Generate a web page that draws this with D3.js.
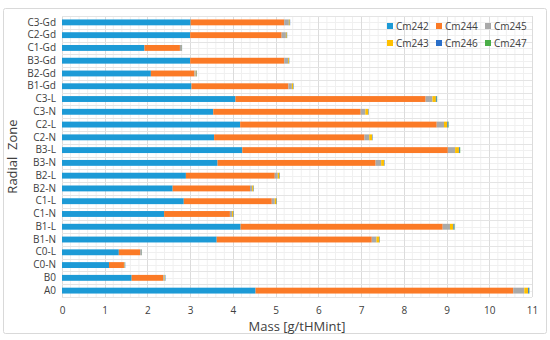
<!DOCTYPE html>
<html>
<head>
<meta charset="utf-8">
<script src="https://cdn.jsdelivr.net/npm/d3@7"></script>
<style>
  body { margin: 0; background: #fff; }
  text { font-family: "Open Sans", "Noto Sans", sans-serif; fill: #404040; }
</style>
</head>
<body>
<div id="chart"></div>
<script>
// radial zones, top to bottom
let zones = ['C3-Gd', 'C2-Gd', 'C1-Gd', 'B3-Gd', 'B2-Gd', 'B1-Gd', 'C3-L', 'C3-N', 'C2-L', 'C2-N', 'B3-L', 'B3-N',
  'B2-L', 'B2-N', 'C1-L', 'C1-N', 'B1-L', 'B1-N', 'C0-L', 'C0-N', 'B0', 'A0'];
// isotopes in stacking order
let isotopes = ['Cm242', 'Cm244', 'Cm245', 'Cm243', 'Cm246', 'Cm247'];
let cm242 = [3.01, 3.00, 1.93, 3.00, 2.08, 3.03, 4.06, 3.54, 4.17, 3.56, 4.22, 3.64, 2.90, 2.59, 2.85, 2.39, 4.18, 3.62, 1.33, 1.10, 1.63, 4.53];
let cm244 = [2.19, 2.14, 0.83, 2.20, 1.02, 2.27, 4.45, 3.45, 4.60, 3.52, 4.81, 3.70, 2.08, 1.81, 2.06, 1.54, 4.73, 3.63, 0.50, 0.35, 0.74, 6.03];
let cm245 = [0.11, 0.10, 0.03, 0.09, 0.03, 0.08, 0.16, 0.11, 0.17, 0.11, 0.17, 0.13, 0.07, 0.05, 0.07, 0.05, 0.17, 0.11, 0.02, 0.01, 0.03, 0.26];
let cm243 = [0.02, 0.02, 0.01, 0.02, 0.02, 0.03, 0.08, 0.07, 0.08, 0.07, 0.09, 0.07, 0.04, 0.03, 0.04, 0.03, 0.08, 0.07, 0.01, 0.01, 0.01, 0.09];
let cm246 = [0.01, 0.01, 0.01, 0.01, 0.01, 0.01, 0.02, 0.01, 0.02, 0.01, 0.02, 0.01, 0.01, 0.01, 0.01, 0.01, 0.02, 0.01, 0.01, 0.01, 0.01, 0.02];
let cm247 = [0.00, 0.00, 0.00, 0.00, 0.00, 0.00, 0.01, 0.00, 0.01, 0.00, 0.01, 0.00, 0.00, 0.00, 0.00, 0.00, 0.01, 0.00, 0.00, 0.00, 0.00, 0.01];
let xTicks = [0, 1, 2, 3, 4, 5, 6, 7, 8, 9, 10, 11];

let colors = {Cm242: '#1c9ad6', Cm244: '#fb7a26', Cm245: '#a9a9a9', Cm243: '#ffc000', Cm246: '#2a6fc9', Cm247: '#4aae47'};

let svgAttr = {width: 550, height: 340};
let marge = {top: 16, bottom: 43, left: 62, right: 18};
let innerW = svgAttr.width - marge.left - marge.right;
let innerH = svgAttr.height - marge.top - marge.bottom;

let rows = zones.map(function (z, i) {
  return {zone: z, Cm242: cm242[i], Cm244: cm244[i], Cm245: cm245[i], Cm243: cm243[i], Cm246: cm246[i], Cm247: cm247[i]};
});
let series = d3.stack().keys(isotopes)(rows);

let svg = d3.select('#chart').append('svg').attr('width', svgAttr.width).attr('height', svgAttr.height);
// chart frame
svg.append('rect').attr('x', 3.5).attr('y', 8.5).attr('width', 543).attr('height', 325)
  .attr('fill', '#fff').attr('stroke', '#d9d9d9').attr('rx', 2);

let g = svg.append('g').attr('transform', 'translate(' + marge.left + ',' + marge.top + ')');

let xScale = d3.scaleLinear().domain([0, 11]).range([0, innerW]);
let yScale = d3.scaleBand().domain(zones).range([0, innerH]).paddingInner(0.54).paddingOuter(0.27);
let rowBand = d3.scaleBand().domain(zones).range([0, innerH]);

// minor grid
let minorX = d3.range(0, 55).map(function (d) { return d * 0.2; }).filter(function (d) { return Math.abs(d - Math.round(d)) > 1e-6; });
g.append('g').selectAll('line').data(minorX).enter().append('line')
  .attr('x1', function (d) { return xScale(d); }).attr('x2', function (d) { return xScale(d); })
  .attr('y1', 0).attr('y2', innerH).attr('stroke', '#f0f0f0').attr('stroke-width', 1);
g.append('g').selectAll('line').data(zones).enter().append('line')
  .attr('x1', 0).attr('x2', innerW)
  .attr('y1', function (d) { return Math.round(rowBand(d) + rowBand.bandwidth() / 2) + 0.5; })
  .attr('y2', function (d) { return Math.round(rowBand(d) + rowBand.bandwidth() / 2) + 0.5; })
  .attr('stroke', '#f0f0f0');
// major grid
g.append('g').selectAll('line').data(xTicks).enter().append('line')
  .attr('x1', function (d) { return Math.round(xScale(d)) + 0.5; }).attr('x2', function (d) { return Math.round(xScale(d)) + 0.5; })
  .attr('y1', 0).attr('y2', innerH).attr('stroke', '#dcdcdc');
g.append('g').selectAll('line').data(d3.range(0, zones.length + 1)).enter().append('line')
  .attr('x1', 0).attr('x2', innerW)
  .attr('y1', function (d) { return Math.round(d * rowBand.step()) + 0.5; })
  .attr('y2', function (d) { return Math.round(d * rowBand.step()) + 0.5; })
  .attr('stroke', '#e4e4e4');

// bars
g.append('g').selectAll('g').data(series).enter().append('g')
  .attr('fill', function (d) { return colors[d.key]; })
  .selectAll('rect').data(function (d) { return d; }).enter().append('rect')
  .attr('x', function (d) { return xScale(d[0]); })
  .attr('y', function (d) { return yScale(d.data.zone); })
  .attr('width', function (d) { return Math.max(0, xScale(d[1]) - xScale(d[0])); })
  .attr('height', yScale.bandwidth());

// axes
let xAxis = d3.axisBottom(xScale).tickValues(xTicks).tickSize(0).tickPadding(10);
g.append('g').attr('transform', 'translate(0,' + innerH + ')').call(xAxis)
  .call(function (a) { a.select('.domain').remove(); })
  .selectAll('text').attr('font-size', '10px').style('fill', '#404040');

let yAxis = d3.axisLeft(rowBand).tickSize(0).tickPadding(6);
g.append('g').call(yAxis)
  .call(function (a) { a.select('.domain').remove(); })
  .selectAll('text').attr('font-size', '10px').style('fill', '#404040');

// axis titles
svg.append('text').attr('x', marge.left + innerW / 2).attr('y', 331).attr('text-anchor', 'middle')
  .attr('font-size', '13px').text('Mass [g/tHMint]');
svg.append('text').attr('transform', 'translate(17,' + (marge.top + innerH / 2) + ') rotate(-90)')
  .attr('text-anchor', 'middle').attr('font-size', '13px').attr('xml:space', 'preserve').text('Radial  Zone');

// legend
let legendPos = [[387, 27], [436, 27], [485, 27], [387, 44], [436, 44], [485, 44]];
let legend = svg.append('g').selectAll('g').data(isotopes).enter().append('g')
  .attr('transform', function (d, i) { return 'translate(' + legendPos[i][0] + ',' + legendPos[i][1] + ')'; });
legend.append('rect').attr('x', 0).attr('y', -4).attr('width', 6).attr('height', 6)
  .attr('fill', function (d) { return colors[d]; });
legend.append('text').attr('x', 9).attr('y', 3).attr('font-size', '10px').text(function (d) { return d; });
</script>
</body>
</html>
